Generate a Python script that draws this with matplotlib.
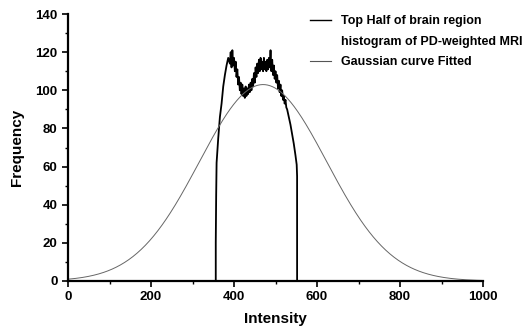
import numpy as np
import matplotlib.pyplot as plt
from matplotlib.lines import Line2D
from matplotlib.ticker import MultipleLocator

plt.rcParams['font.family'] = ['Liberation Sans', 'DejaVu Sans']
plt.rcParams['font.weight'] = 'bold'

# top half of the brain region histogram (PD-weighted MRI)
hist_x = [356, 356, 357, 358, 362, 366, 370, 374, 378, 382, 386, 390, 392, 394,
          396, 398, 400, 402, 404, 406, 408, 410, 412, 414, 416, 418, 420, 422,
          424, 426, 428, 430, 432, 434, 436, 438, 440, 442, 444, 446, 448, 450,
          452, 454, 456, 458, 460, 462, 464, 466, 468, 470, 472, 474, 476, 478,
          480, 482, 484, 486, 488, 490, 492, 494, 496, 498, 500, 502, 504, 506,
          508, 510, 512, 514, 516, 518, 520, 522, 524, 526, 528, 532, 536, 540,
          544, 548, 551, 552, 552, 552]
hist_y = [0, 20, 45, 62, 75, 86, 93, 102, 108, 113, 117, 114, 120, 112,
          121, 113, 117, 110, 115, 107, 111, 103, 107, 100, 104, 98, 103, 97,
          101, 96, 102, 97, 101, 98, 103, 99, 104, 100, 106, 102, 109, 104,
          112, 107, 114, 109, 116, 110, 117, 111, 115, 110, 117, 111, 115, 110,
          116, 111, 117, 112, 121, 110, 116, 108, 113, 106, 110, 104, 108, 101,
          105, 99, 103, 97, 100, 95, 97, 93, 95, 91, 90, 86, 82, 77,
          72, 66, 61, 55, 20, 0]

# fitted gaussian parameters
gauss_amp = 103.0
gauss_mu = 470.0
gauss_sigma = 153.6

xs = np.linspace(0, 1000, 500)
gauss_y = gauss_amp * np.exp(-(xs - gauss_mu) ** 2 / (2 * gauss_sigma ** 2))

fig = plt.figure(figsize=(5.24, 3.28), dpi=100)
ax = fig.add_axes([0.1298, 0.1433, 0.792, 0.814])

ax.plot(hist_x, hist_y, color='black', lw=1.3)
ax.plot(xs, gauss_y, color='#666666', lw=0.7)

ax.set_xlim(0, 1000)
ax.set_ylim(0, 140)
ax.xaxis.set_major_locator(MultipleLocator(200))
ax.xaxis.set_minor_locator(MultipleLocator(100))
ax.yaxis.set_major_locator(MultipleLocator(20))
ax.yaxis.set_minor_locator(MultipleLocator(10))
ax.tick_params(which='major', direction='out', length=4, width=1.2, labelsize=9.5)
ax.tick_params(which='minor', direction='out', length=2, width=1.0)
for s in ['top', 'right']:
    ax.spines[s].set_visible(False)
for s in ['left', 'bottom']:
    ax.spines[s].set_linewidth(1.6)

ax.set_xlabel('Intensity', fontsize=11, fontweight='bold', labelpad=6)
ax.set_ylabel('Frequency', fontsize=11, fontweight='bold', labelpad=8)

handles = [Line2D([], [], color='black', lw=1.0),
           Line2D([], [], color='none'),
           Line2D([], [], color='#555555', lw=0.8)]
labels = ['Top Half of brain region', 'histogram of PD-weighted MRI',
          'Gaussian curve Fitted']
ax.legend(handles, labels, loc='upper left', bbox_to_anchor=(0.562, 1.028),
          frameon=False, fontsize=9.0, handlelength=1.7, handletextpad=0.8,
          labelspacing=0.67, borderpad=0.2)

fig.savefig('out.png', dpi=100)
